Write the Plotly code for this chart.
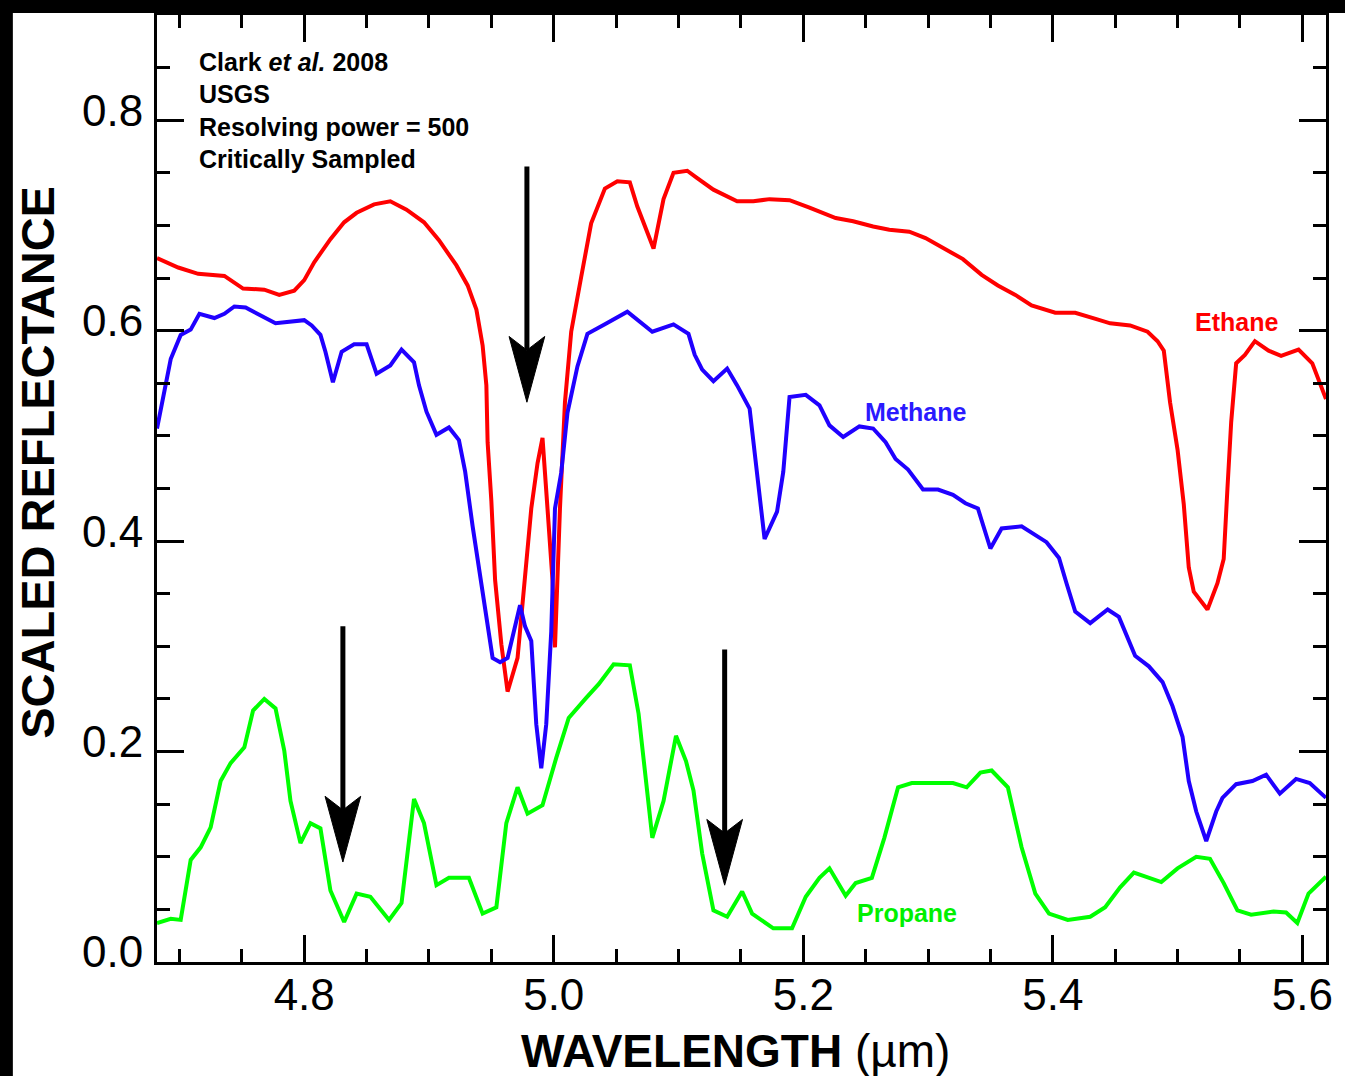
import plotly.graph_objects as go

# ---------------- data ----------------
ethane_x = [4.682, 4.699, 4.715, 4.736, 4.751, 4.768, 4.780, 4.792, 4.800, 4.808,
            4.821, 4.832, 4.842, 4.856, 4.869, 4.882, 4.896, 4.908, 4.922, 4.931,
            4.938, 4.943, 4.946, 4.947, 4.950, 4.953, 4.958, 4.963, 4.971, 4.977,
            4.982, 4.987, 4.991, 4.995, 4.999, 5.001, 5.005, 5.009, 5.014, 5.022,
            5.030, 5.041, 5.051, 5.061, 5.067, 5.080, 5.088, 5.096, 5.107, 5.115,
            5.128, 5.147, 5.160, 5.173, 5.189, 5.205, 5.226, 5.240, 5.256, 5.269,
            5.285, 5.298, 5.312, 5.328, 5.343, 5.356, 5.370, 5.383, 5.402, 5.418,
            5.435, 5.446, 5.462, 5.476, 5.484, 5.489, 5.494, 5.500, 5.505, 5.509,
            5.513, 5.524, 5.532, 5.537, 5.540, 5.543, 5.547, 5.554, 5.562, 5.573,
            5.583, 5.597, 5.608, 5.619]
ethane_y = [0.669, 0.660, 0.654, 0.652, 0.640, 0.639, 0.634, 0.638, 0.648, 0.665,
            0.687, 0.703, 0.712, 0.720, 0.723, 0.715, 0.703, 0.686, 0.662, 0.643,
            0.620, 0.586, 0.548, 0.494, 0.438, 0.363, 0.302, 0.257, 0.289, 0.363,
            0.431, 0.474, 0.498, 0.431, 0.363, 0.299, 0.431, 0.532, 0.599, 0.651,
            0.702, 0.735, 0.742, 0.741, 0.718, 0.678, 0.725, 0.750, 0.752, 0.745,
            0.734, 0.723, 0.723, 0.725, 0.724, 0.717, 0.707, 0.704, 0.699, 0.696,
            0.694, 0.688, 0.679, 0.668, 0.653, 0.643, 0.634, 0.624, 0.617, 0.617,
            0.611, 0.607, 0.605, 0.599, 0.590, 0.581, 0.532, 0.487, 0.435, 0.375,
            0.352, 0.335, 0.360, 0.383, 0.450, 0.513, 0.569, 0.577, 0.590, 0.581,
            0.576, 0.582, 0.569, 0.535]

methane_x = [4.682, 4.688, 4.693, 4.701, 4.709, 4.716, 4.728, 4.736, 4.744, 4.753,
             4.763, 4.777, 4.800, 4.806, 4.813, 4.817, 4.823, 4.830, 4.840, 4.850,
             4.858, 4.869, 4.878, 4.888, 4.892, 4.898, 4.906, 4.916, 4.924, 4.929,
             4.935, 4.941, 4.945, 4.951, 4.957, 4.963, 4.973, 4.977, 4.982, 4.986,
             4.990, 4.994, 4.998, 5.001, 5.006, 5.011, 5.019, 5.027, 5.041, 5.059,
             5.079, 5.096, 5.108, 5.113, 5.119, 5.128, 5.139, 5.147, 5.157, 5.163,
             5.169, 5.179, 5.184, 5.189, 5.202, 5.213, 5.221, 5.232, 5.245, 5.256,
             5.266, 5.274, 5.284, 5.296, 5.308, 5.320, 5.330, 5.340, 5.350, 5.359,
             5.375, 5.395, 5.405, 5.411, 5.418, 5.430, 5.444, 5.453, 5.461, 5.466,
             5.477, 5.488, 5.496, 5.504, 5.509, 5.515, 5.523, 5.531, 5.536, 5.547,
             5.560, 5.571, 5.582, 5.595, 5.606, 5.619]
methane_y = [0.507, 0.542, 0.573, 0.596, 0.601, 0.616, 0.612, 0.616, 0.623, 0.622,
             0.616, 0.607, 0.610, 0.605, 0.596, 0.580, 0.551, 0.580, 0.587, 0.587,
             0.559, 0.567, 0.582, 0.570, 0.548, 0.523, 0.501, 0.508, 0.496, 0.466,
             0.414, 0.366, 0.339, 0.289, 0.285, 0.289, 0.339, 0.319, 0.305, 0.226,
             0.184, 0.226, 0.314, 0.431, 0.465, 0.522, 0.566, 0.597, 0.606, 0.618,
             0.599, 0.606, 0.597, 0.577, 0.563, 0.552, 0.564, 0.548, 0.526, 0.466,
             0.402, 0.428, 0.466, 0.537, 0.539, 0.529, 0.510, 0.499, 0.509, 0.507,
             0.494, 0.478, 0.468, 0.449, 0.449, 0.444, 0.436, 0.431, 0.393, 0.412,
             0.414, 0.399, 0.384, 0.360, 0.333, 0.322, 0.335, 0.328, 0.306, 0.291,
             0.281, 0.266, 0.243, 0.214, 0.172, 0.143, 0.115, 0.143, 0.156, 0.169,
             0.172, 0.178, 0.160, 0.174, 0.170, 0.156]

propane_x = [4.682, 4.693, 4.701, 4.709, 4.717, 4.725, 4.733, 4.741, 4.752, 4.759,
             4.768, 4.777, 4.784, 4.789, 4.797, 4.805, 4.813, 4.821, 4.832, 4.842,
             4.853, 4.868, 4.878, 4.888, 4.896, 4.906, 4.916, 4.932, 4.943, 4.954,
             4.962, 4.971, 4.979, 4.991, 5.002, 5.012, 5.026, 5.036, 5.048, 5.061,
             5.068, 5.073, 5.079, 5.088, 5.098, 5.106, 5.112, 5.119, 5.128, 5.139,
             5.151, 5.159, 5.176, 5.191, 5.202, 5.213, 5.221, 5.234, 5.242, 5.255,
             5.265, 5.276, 5.287, 5.320, 5.331, 5.342, 5.351, 5.364, 5.375, 5.386,
             5.397, 5.412, 5.430, 5.442, 5.454, 5.465, 5.476, 5.487, 5.500, 5.515,
             5.526, 5.537, 5.548, 5.559, 5.577, 5.587, 5.596, 5.605, 5.619]
propane_y = [0.037, 0.041, 0.040, 0.097, 0.109, 0.128, 0.172, 0.189, 0.204, 0.239,
             0.250, 0.241, 0.201, 0.153, 0.113, 0.132, 0.127, 0.068, 0.038, 0.065,
             0.062, 0.040, 0.056, 0.155, 0.132, 0.073, 0.080, 0.080, 0.046, 0.052,
             0.132, 0.166, 0.141, 0.149, 0.194, 0.232, 0.251, 0.264, 0.283, 0.282,
             0.236, 0.179, 0.118, 0.153, 0.215, 0.191, 0.163, 0.103, 0.049, 0.043,
             0.067, 0.046, 0.032, 0.032, 0.062, 0.080, 0.089, 0.063, 0.075, 0.080,
             0.118, 0.166, 0.170, 0.170, 0.166, 0.180, 0.182, 0.166, 0.109, 0.065,
             0.046, 0.040, 0.043, 0.052, 0.071, 0.085, 0.080, 0.076, 0.089, 0.100,
             0.098, 0.075, 0.049, 0.045, 0.048, 0.047, 0.037, 0.065, 0.081]

# series labels: (text, wavelength, reflectance, colour)
series_labels = [("Ethane", 5.547, 0.608, "#FF0000"),
                 ("Methane", 5.290, 0.523, "#2A1AFF"),
                 ("Propane", 5.283, 0.047, "#00F000")]

# downward arrows: (wavelength, top reflectance, tip reflectance)
arrows = [(4.9785, 0.756, 0.532),
          (4.831, 0.319, 0.095),
          (5.137, 0.297, 0.073)]

note_lines = ["Clark <i>et al.</i> 2008", "USGS",
              "Resolving power = 500", "Critically Sampled"]

x_range = [4.682, 5.619]
y_range = [0.0, 0.9]

FONT = "Liberation Sans, Arial, Helvetica, sans-serif"

fig = go.Figure()
for xs, ys, col in [(ethane_x, ethane_y, "#FF0000"),
                    (methane_x, methane_y, "#2000FF"),
                    (propane_x, propane_y, "#00FF00")]:
    fig.add_trace(go.Scatter(x=xs, y=ys, mode="lines",
                             line=dict(color=col, width=4),
                             showlegend=False, hoverinfo="skip"))

annotations = []
for text, lx, ly, col in series_labels:
    annotations.append(dict(x=lx, y=ly, xref="x", yref="y", text="<b>%s</b>" % text,
                            showarrow=False, font=dict(family=FONT, size=25, color=col),
                            xanchor="center", yanchor="middle"))

note_y = [0.9505, 0.9167, 0.882, 0.8483]
for t, yy in zip(note_lines, note_y):
    annotations.append(dict(x=0.034, y=yy, xref="paper", yref="paper", text="<b>%s</b>" % t,
                            showarrow=False, font=dict(family=FONT, size=25, color="black"),
                            xanchor="left", yanchor="middle"))

# axis titles
annotations.append(dict(x=-0.102, y=0.528, xref="paper", yref="paper",
                        text="<b>SCALED REFLECTANCE</b>", textangle=-90, showarrow=False,
                        font=dict(family=FONT, size=47, color="black"),
                        xanchor="center", yanchor="middle"))
annotations.append(dict(x=0.495, y=-0.0938, xref="paper", yref="paper",
                        text="<b>WAVELENGTH</b> (µm)", showarrow=False,
                        font=dict(family=FONT, size=46, color="black"),
                        xanchor="center", yanchor="middle"))

shapes = []
hw, hl, nd = 0.0143, 0.0625, 0.013
for ax, ytop, ytip in arrows:
    shapes.append(dict(type="line", xref="x", yref="y", x0=ax, x1=ax,
                       y0=ytop, y1=ytip + hl - nd, line=dict(color="black", width=5)))
    path = "M %f,%f L %f,%f L %f,%f L %f,%f Z" % (
        ax, ytip, ax - hw, ytip + hl, ax, ytip + hl - nd, ax + hw, ytip + hl)
    shapes.append(dict(type="path", xref="x", yref="y", path=path,
                       fillcolor="black", line=dict(color="black", width=1)))

# black frame strips of the original image (left and top edges)
shapes.append(dict(type="rect", xref="paper", yref="paper", x0=-0.14, x1=-0.1233,
                   y0=-0.13, y1=1.02, fillcolor="black", line=dict(width=0), layer="above"))
shapes.append(dict(type="rect", xref="paper", yref="paper", x0=-0.14, x1=1.02,
                   y0=1.0021, y1=1.02, fillcolor="black", line=dict(width=0), layer="above"))

axis_common = dict(showgrid=False, zeroline=False, showline=True, linecolor="black",
                   linewidth=3, mirror="ticks", ticks="inside", ticklen=27, tickwidth=3,
                   tickcolor="black", tickformat=".1f",
                   tickfont=dict(family=FONT, size=44, color="black"))

fig.update_layout(
    width=1345, height=1076,
    margin=dict(l=157, r=12, t=13, b=114),
    paper_bgcolor="white", plot_bgcolor="white",
    xaxis=dict(range=x_range, tick0=4.8, dtick=0.2, ticklabelstandoff=-8,
               minor=dict(dtick=0.05, tick0=4.8, ticks="inside", ticklen=13,
                          tickwidth=3, tickcolor="black", showgrid=False),
               **axis_common),
    yaxis=dict(range=y_range, tick0=0, dtick=0.2, ticklabelstandoff=2,
               ticklabelshift=-10,
               minor=dict(dtick=0.05, tick0=0, ticks="inside", ticklen=13,
                          tickwidth=3, tickcolor="black", showgrid=False),
               **axis_common),
    annotations=annotations,
    shapes=shapes,
)

fig.write_html("out.html")
